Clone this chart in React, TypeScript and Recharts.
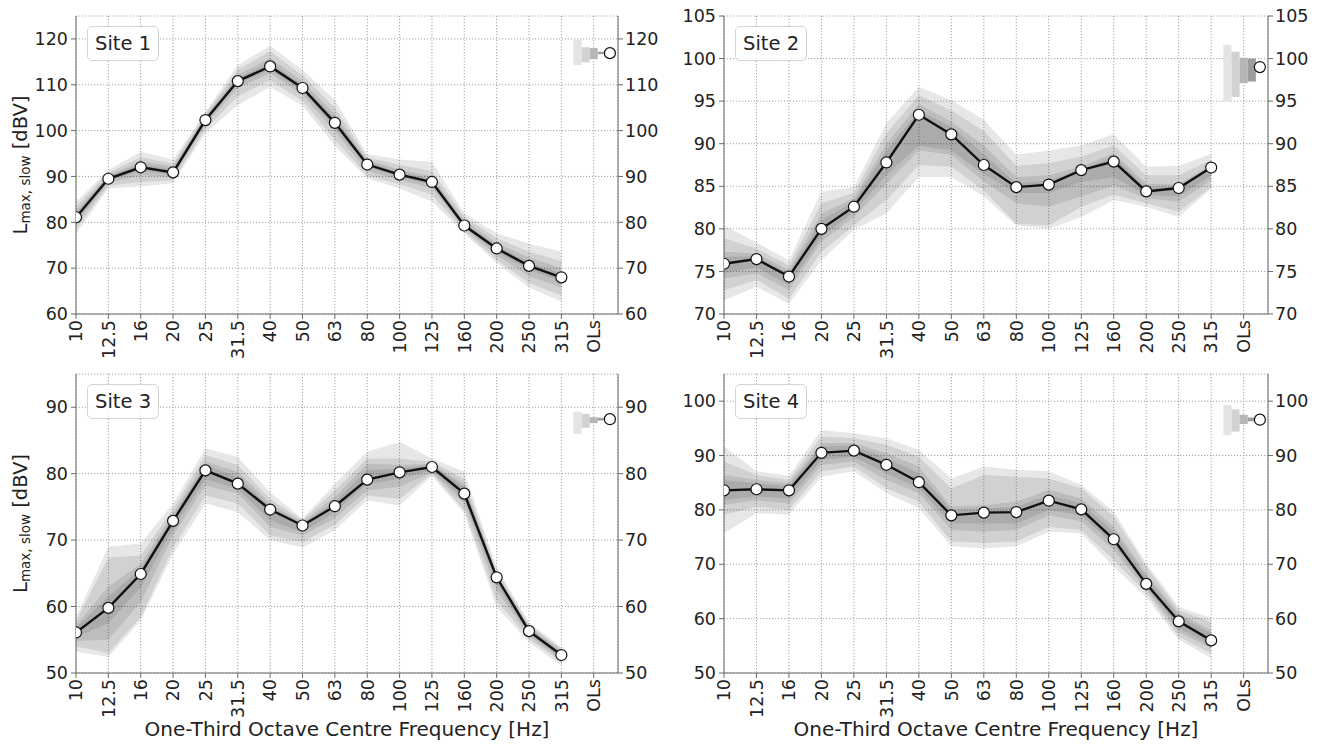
import React from "react";
import {
  Area,
  CartesianGrid,
  ComposedChart,
  Line,
  ReferenceArea,
  ReferenceDot,
  XAxis,
  YAxis,
} from "recharts";

// one-third octave bands, last slot is the overall level
const freqLabels = ["10", "12.5", "16", "20", "25", "31.5", "40", "50", "63", "80", "100", "125", "160", "200", "250", "315", "OLs"];
const siteNames = ["Site 1", "Site 2", "Site 3", "Site 4"];

// medians per band
const site1Median = [81.1, 89.5, 92.0, 90.9, 102.3, 110.8, 114.0, 109.3, 101.7, 92.6, 90.4, 88.8, 79.3, 74.3, 70.5, 68.0];
const site2Median = [75.9, 76.45, 74.4, 80.0, 82.6, 87.8, 93.4, 91.1, 87.5, 84.9, 85.2, 86.9, 87.9, 84.4, 84.8, 87.2];
const site3Median = [56.1, 59.8, 64.9, 72.9, 80.5, 78.5, 74.6, 72.2, 75.1, 79.1, 80.2, 81.0, 77.0, 64.4, 56.3, 52.7];
const site4Median = [83.6, 83.8, 83.6, 90.5, 90.9, 88.3, 85.1, 79.0, 79.5, 79.6, 81.7, 80.1, 74.6, 66.4, 59.5, 56.0];

// percentile bands, outer -> inner, [low, high]
const site1Bands = [
  [[77.5, 84.5], [87.4, 91.4], [87.8, 95.4], [88.5, 93.7], [99.4, 104.1], [105.6, 114.3], [109.5, 118.5], [105.4, 113.2], [96.7, 106.7], [89.6, 94.9], [87.4, 93.7], [84.5, 93.2], [77.6, 82.0], [71.1, 77.6], [65.8, 75.4], [62.7, 73.6]],
  [[78.5, 83.5], [88.0, 90.8], [88.8, 94.2], [89.2, 92.8], [100.3, 103.6], [107.5, 113.3], [111.0, 117.3], [106.5, 112.0], [98.0, 105.0], [90.2, 94.2], [88.3, 92.5], [86.0, 91.2], [78.0, 81.2], [71.8, 76.5], [66.8, 73.6], [64.0, 71.5]],
  [[79.5, 82.5], [88.6, 90.3], [90.3, 93.3], [89.9, 92.2], [101.2, 103.2], [109.3, 112.2], [112.5, 115.8], [107.8, 110.8], [99.8, 103.5], [91.2, 93.6], [89.3, 91.5], [87.5, 90.0], [78.6, 80.4], [72.8, 75.5], [68.3, 72.3], [65.8, 70.0]],
  [[80.3, 81.9], [89.0, 90.0], [91.3, 92.7], [90.4, 91.5], [101.8, 102.8], [110.2, 111.5], [113.3, 114.8], [108.6, 110.0], [100.8, 102.6], [92.0, 93.2], [89.9, 90.9], [88.2, 89.4], [79.0, 79.8], [73.6, 74.9], [69.6, 71.3], [67.2, 68.8]],
];
const site2Bands = [
  [[71.6, 80.4], [73.2, 78.4], [71.2, 76.3], [76.3, 84.4], [79.9, 84.9], [81.8, 92.4], [86.1, 96.7], [86.1, 95.1], [83.8, 92.8], [80.4, 88.7], [80.0, 89.2], [81.4, 89.8], [83.4, 91.1], [82.6, 87.3], [81.4, 87.4], [84.7, 88.8]],
  [[72.8, 78.9], [74.0, 77.7], [71.8, 75.7], [77.3, 83.0], [80.4, 84.2], [83.4, 91.2], [87.5, 95.7], [87.3, 93.9], [84.5, 91.5], [80.6, 87.4], [80.4, 87.7], [82.6, 88.5], [84.0, 89.8], [83.0, 86.3], [82.0, 86.3], [84.9, 88.1]],
  [[74.2, 77.3], [74.8, 77.1], [72.8, 75.2], [78.5, 81.8], [81.4, 83.6], [85.3, 90.0], [89.2, 94.7], [88.7, 92.6], [85.6, 89.8], [83.0, 86.1], [82.6, 86.3], [83.8, 87.3], [85.1, 88.9], [83.6, 85.3], [83.2, 85.3], [85.7, 87.5]],
  [[74.8, 76.7], [75.5, 76.8], [73.4, 74.8], [79.0, 81.0], [82.0, 83.2], [86.3, 89.2], [89.8, 93.9], [89.2, 92.0], [86.4, 88.8], [84.2, 85.3], [84.2, 85.7], [85.5, 86.9], [86.1, 88.5], [84.0, 84.9], [83.8, 85.0], [86.3, 87.3]],
];
const site3Bands = [
  [[53.2, 58.4], [52.4, 69.0], [57.9, 69.5], [67.9, 75.5], [75.5, 83.8], [74.2, 82.5], [70.0, 77.2], [68.9, 73.2], [71.5, 78.5], [76.0, 83.3], [75.2, 84.8], [79.7, 82.3], [74.0, 80.3], [59.9, 65.9], [54.6, 57.6], [51.1, 53.9]],
  [[54.0, 57.8], [53.0, 67.4], [58.4, 67.7], [68.9, 74.7], [76.7, 82.8], [75.5, 81.3], [70.7, 76.2], [69.7, 73.0], [72.3, 77.5], [76.7, 82.3], [76.2, 82.3], [80.0, 81.8], [74.5, 79.2], [60.9, 65.4], [55.1, 57.3], [51.6, 53.6]],
  [[54.8, 57.2], [55.0, 63.0], [60.7, 66.4], [70.7, 74.0], [78.2, 81.8], [77.0, 80.3], [72.0, 75.5], [70.7, 72.7], [73.3, 76.5], [77.5, 81.5], [78.0, 81.3], [80.2, 81.5], [75.5, 78.5], [62.4, 64.9], [55.6, 57.0], [52.0, 53.4]],
  [[55.4, 56.8], [57.5, 61.5], [62.9, 65.7], [71.7, 73.5], [79.2, 81.3], [77.7, 79.5], [73.0, 75.0], [71.2, 72.5], [74.2, 75.8], [78.5, 80.5], [79.2, 80.8], [80.5, 81.3], [76.2, 78.0], [63.4, 64.7], [55.9, 56.8], [52.3, 53.1]],
];
const site4Bands = [
  [[75.7, 91.7], [79.4, 87.1], [79.1, 86.3], [86.1, 94.7], [87.1, 94.1], [83.1, 93.2], [80.3, 91.0], [73.3, 85.8], [72.9, 88.0], [73.3, 87.4], [76.0, 87.1], [75.7, 84.6], [69.5, 79.7], [64.0, 70.2], [56.1, 62.2], [52.7, 60.1]],
  [[79.1, 88.9], [80.6, 86.4], [80.0, 85.5], [87.1, 93.5], [88.0, 93.2], [84.0, 92.0], [81.5, 89.8], [74.2, 84.0], [73.9, 86.4], [74.2, 86.1], [76.9, 85.8], [76.3, 84.0], [70.8, 78.8], [64.7, 69.6], [56.7, 61.6], [53.6, 59.4]],
  [[80.9, 86.4], [81.8, 85.5], [81.2, 84.9], [88.3, 92.3], [88.9, 92.3], [85.5, 90.4], [83.1, 88.0], [76.3, 80.6], [76.0, 80.9], [76.3, 81.5], [79.0, 83.7], [77.9, 82.1], [72.6, 76.9], [65.3, 68.3], [57.6, 61.0], [54.5, 57.9]],
  [[81.8, 85.5], [82.5, 84.9], [82.1, 84.4], [89.2, 91.7], [89.8, 91.8], [86.7, 89.5], [84.0, 86.7], [77.5, 80.0], [77.5, 80.3], [77.5, 80.6], [80.0, 82.8], [79.0, 81.2], [73.6, 76.0], [65.9, 67.7], [58.3, 60.5], [55.1, 57.3]],
];

// overall level (OLs) median and bands, outer -> inner
const olsMedian = [116.9, 99.0, 88.2, 96.6];
const site1Ols = [[114.3, 119.8], [114.9, 118.2], [115.6, 118.0], [116.7, 117.2]];
const site2Ols = [[95.0, 101.6], [95.5, 100.8], [97.1, 100.1], [97.3, 100.0]];
const site3Ols = [[86.0, 89.3], [86.9, 89.0], [87.6, 88.5], [88.0, 88.4]];
const site4Ols = [[93.8, 99.3], [94.4, 98.5], [95.8, 97.5], [96.3, 97.0]];

// y axis ranges and ticks
const site1Ticks = [60, 70, 80, 90, 100, 110, 120];
const site2Ticks = [70, 75, 80, 85, 90, 95, 100, 105];
const site3Ticks = [50, 60, 70, 80, 90];
const site4Ticks = [50, 60, 70, 80, 90, 100];
const yDomains = [[60, 125], [70, 105], [50, 95], [50, 105]];

const X_MAX = 16.75;
const OLS_BAR_START = 15.375;
const OLS_BAR_W = 0.25;
const OLS_DOT_X = 16.5;
const OLS_FILLS = ["#e4e4e4", "#d2d2d2", "#b6b6b6", "#9c9c9c"];

const TEXT = "#222";
const SPINE = "#6a6a6a";
const FONT = "'DejaVu Sans', sans-serif";
const TICK_FS = 17.5;

const panels = [
  { name: siteNames[0], median: site1Median, bands: site1Bands, ols: site1Ols, olsMid: olsMedian[0], domain: yDomains[0], ticks: site1Ticks, left: 0, top: 0, width: 660, leftW: 76, rightW: 42, mTop: 16, xH: 59, yLabel: true, xLabel: false },
  { name: siteNames[1], median: site2Median, bands: site2Bands, ols: site2Ols, olsMid: olsMedian[1], domain: yDomains[1], ticks: site2Ticks, left: 660, top: 0, width: 659, leftW: 64, rightW: 51, mTop: 16, xH: 59, yLabel: false, xLabel: false },
  { name: siteNames[2], median: site3Median, bands: site3Bands, ols: site3Ols, olsMid: olsMedian[2], domain: yDomains[2], ticks: site3Ticks, left: 0, top: 373, width: 660, leftW: 76, rightW: 42, mTop: 1, xH: 73, yLabel: true, xLabel: true },
  { name: siteNames[3], median: site4Median, bands: site4Bands, ols: site4Ols, olsMid: olsMedian[3], domain: yDomains[3], ticks: site4Ticks, left: 660, top: 373, width: 659, leftW: 64, rightW: 51, mTop: 1, xH: 73, yLabel: false, xLabel: true },
];

const PANEL_H = 373;
const xTicks = freqLabels.map((_, i) => i);

function FreqTick(props: any) {
  const { x, y, payload } = props;
  return (
    <text
      x={x}
      y={y}
      dy="0.36em"
      textAnchor="end"
      transform={`rotate(-90, ${x}, ${y})`}
      fontSize={TICK_FS}
      fill={TEXT}
    >
      {freqLabels[payload.value]}
    </text>
  );
}

function YLabel({ cy }: { cy: number }) {
  const x = 27;
  return (
    <text x={x} y={cy} textAnchor="middle" transform={`rotate(-90, ${x}, ${cy})`} fontSize={19.5} fill={TEXT}>
      L
      <tspan fontSize={13.5} dy={3}>max, slow</tspan>
      <tspan dy={-3}>{"\u00a0[dBV]"}</tspan>
    </text>
  );
}

function SitePanel({ p }: { p: (typeof panels)[number] }) {
  const rows = p.median.map((m, i) => ({
    i,
    median: m,
    b0: p.bands[0][i],
    b1: p.bands[1][i],
    b2: p.bands[2][i],
    b3: p.bands[3][i],
  }));
  const tickStyle = { fontSize: TICK_FS, fill: TEXT };
  const plotMid = p.mTop + (PANEL_H - p.mTop - p.xH) / 2;

  return (
    <div style={{ position: "absolute", left: p.left, top: p.top, width: p.width, height: PANEL_H }}>
      <ComposedChart width={p.width} height={PANEL_H} data={rows} margin={{ top: p.mTop, right: 0, bottom: 0, left: 0 }}>
        <CartesianGrid yAxisId="left" stroke="#a3a3a3" strokeDasharray="1.2 1.8" />
        <XAxis
          dataKey="i"
          type="number"
          domain={[0, X_MAX]}
          ticks={xTicks}
          interval={0}
          allowDataOverflow
          height={p.xH}
          tick={<FreqTick />}
          tickSize={5}
          tickMargin={1}
          stroke={SPINE}
          label={
            p.xLabel
              ? { value: "One-Third Octave Centre Frequency [Hz]", position: "insideBottom", offset: 10, fontSize: 20, fill: TEXT }
              : undefined
          }
        />
        <XAxis xAxisId="top" orientation="top" type="number" domain={[0, X_MAX]} allowDataOverflow height={0} tick={false} tickLine={false} stroke={SPINE} />
        <YAxis
          yAxisId="left"
          type="number"
          domain={p.domain}
          ticks={p.ticks}
          interval={0}
          allowDataOverflow
          width={p.leftW}
          tick={tickStyle}
          tickSize={5}
          tickMargin={3}
          stroke={SPINE}
          label={p.yLabel ? () => <YLabel cy={plotMid} /> : undefined}
        />
        <YAxis
          yAxisId="right"
          orientation="right"
          type="number"
          domain={p.domain}
          ticks={p.ticks}
          interval={0}
          allowDataOverflow
          width={p.rightW}
          tick={{ ...tickStyle, textAnchor: "start" }}
          tickSize={5}
          tickMargin={2}
          stroke={SPINE}
        />
        {["b0", "b1", "b2", "b3"].map((k) => (
          <Area
            key={k}
            yAxisId="left"
            type="linear"
            dataKey={k}
            stroke="none"
            fill="#000"
            fillOpacity={0.095}
            dot={false}
            activeDot={false}
            isAnimationActive={false}
          />
        ))}
        {p.ols.map(([lo, hi], k) => (
          <ReferenceArea
            key={k}
            yAxisId="left"
            x1={OLS_BAR_START + k * OLS_BAR_W}
            x2={OLS_BAR_START + (k + 1) * OLS_BAR_W}
            y1={lo}
            y2={hi}
            fill={OLS_FILLS[k]}
            fillOpacity={1}
            stroke="none"
          />
        ))}
        <Line
          yAxisId="left"
          type="linear"
          dataKey="median"
          stroke="#111"
          strokeWidth={2.4}
          dot={{ r: 5.5, fill: "#fff", stroke: "#111", strokeWidth: 1.2 }}
          activeDot={false}
          isAnimationActive={false}
        />
        <ReferenceDot yAxisId="left" x={OLS_DOT_X} y={p.olsMid} r={5.5} fill="#fff" stroke="#111" strokeWidth={1.2} />
      </ComposedChart>
      <div
        style={{
          position: "absolute",
          left: p.leftW + 11,
          top: p.mTop + 10,
          height: 33,
          padding: "0 7px",
          border: "1px solid #d4d4d4",
          borderRadius: 5,
          background: "rgba(255,255,255,0.85)",
          fontSize: 19.5,
          lineHeight: "33px",
          color: TEXT,
        }}
      >
        {p.name}
      </div>
    </div>
  );
}

export default function App() {
  return (
    <div style={{ position: "relative", width: 1319, height: 746, background: "#fff", fontFamily: FONT, overflow: "hidden" }}>
      <style>{"body{margin:0}"}</style>
      {panels.map((p) => (
        <SitePanel key={p.name} p={p} />
      ))}
    </div>
  );
}
